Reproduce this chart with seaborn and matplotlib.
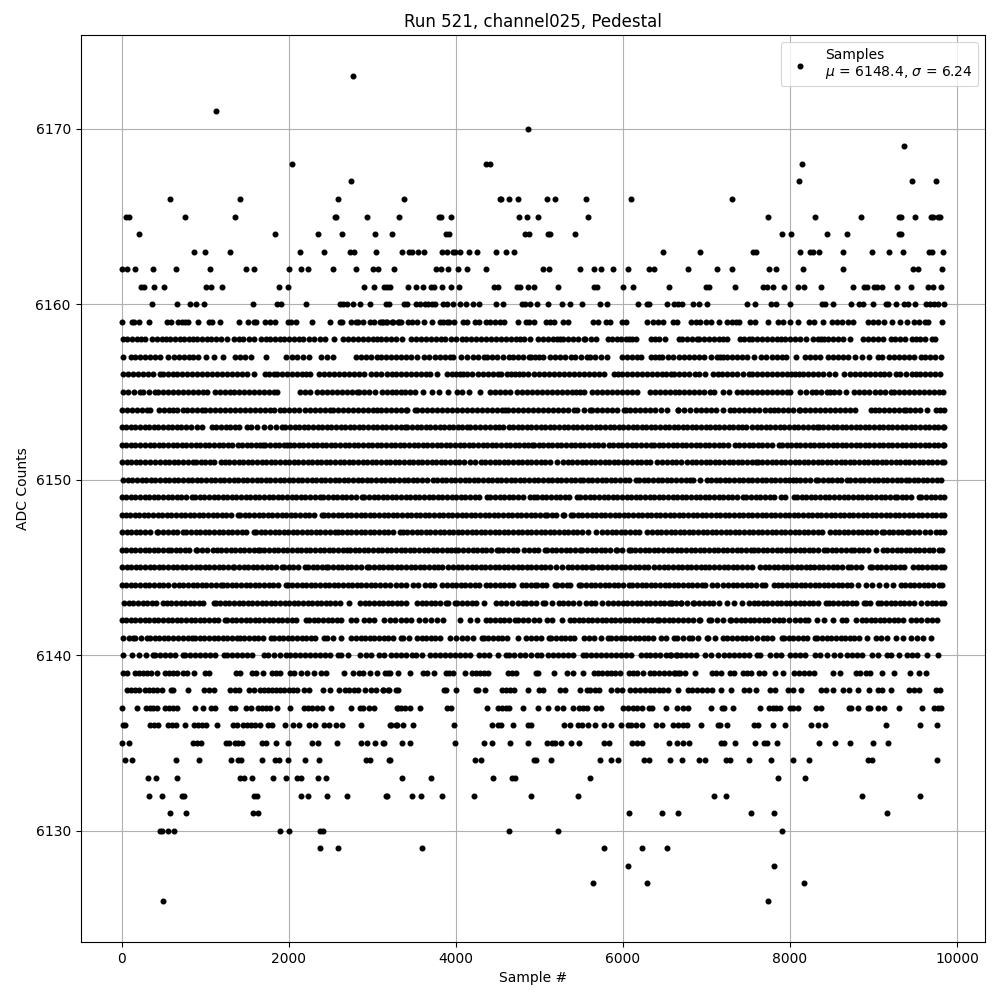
import matplotlib
matplotlib.use("Agg")
import matplotlib.pyplot as plt
import pandas as pd
import seaborn as sns

# Sample numbers read per ADC level. Sparse levels are read dot by dot;
# in the dense levels dots merge, so the listed samples are estimates that follow the visible runs and gaps.
s6171 = [1124]
s6170 = [4860]
s6169 = [9364]
s6168 = [2036, 4356, 4404, 8140]
s6167 = [2744, 8104, 9460, 9748]
s6166 = [584, 1412, 2588, 3384, 4524, 4544, 4632, 4740, 5088, 5184, 5556, 6096, 7300]
s6165 = [52, 84, 764, 1352, 2552, 2568, 2936, 3324, 3804, 3828, 3948, 4752, 4848, 4980, 5580, 7732, 8296, 8848, 9304, 9332, 9496, 9688, 9712, 9772, 9796]
s6164 = [212, 1832, 2348, 2636, 3032, 3240, 3888, 3924, 4824, 4872, 5100, 5124, 5424, 7900, 8008, 8440, 8680, 9304, 9332]
s6163 = [872, 1004, 1292, 2132, 2420, 2732, 2780, 3044, 3360, 3444, 3480, 3552, 3624, 3840, 3900, 3972, 3996, 4056, 4152, 4248, 4476, 4596, 4692, 6480, 6928, 7552, 7588, 8116, 8236, 8272, 8344, 8632, 8980, 9184, 9352, 9664, 9700, 9832]
s6162 = [0, 68, 164, 380, 656, 1052, 1484, 1580, 2000, 2144, 2228, 2528, 2804, 3004, 3068, 3264, 3768, 3828, 3912, 4032, 4140, 4356, 5040, 5112, 5484, 5652, 5736, 5880, 6060, 6312, 6372, 6784, 7132, 7300, 7744, 7828, 8152, 8632, 9472, 9532, 9820]
s6161 = [228, 272, 392, 512, 1016, 1064, 1196, 1880, 1988, 2900, 3020, 3144, 3180, 3216, 3432, 3528, 3612, 3708, 3744, 3840, 3948, 4044, 4452, 4500, 4728, 4764, 4860, 4932, 5224, 5652, 5692, 6000, 6120, 6552, 7000, 7036, 7336, 7672, 7720, 7792, 7924, 8092, 8164, 8368, 8752, 8884, 8920, 9004, 9040, 9100, 9280, 9448, 9652, 9712, 9808]
s6160 = [368, 668, 824, 888, 992, 1568, 1856, 1904, 2204, 2612, 2652, 2696, 2768, 2852, 2972, 3164, 3200, 3384, 3420, 3528, 3576, 3636, 3672, 3720, 3756, 3852, 3892, 3972, 4056, 4128, 4200, 4272, 4484, 4560, 4788, 4824, 4892, 4968, 5100, 5268, 5364, 5508, 5724, 5804, 6180, 6284, 6312, 6532, 6616, 6660, 6712, 6844, 6916, 7012, 7480, 7576, 7768, 7828, 7996, 8380, 8416, 8512, 8728, 8824, 8872, 8992, 9148, 9172, 9268, 9364, 9412, 9496, 9628, 9676, 9724, 9772, 9842]
s6159 = [0, 128, 152, 212, 332, 548, 596, 680, 720, 760, 800, 920, 1040, 1080, 1172, 1400, 1508, 1580, 1612, 1712, 1780, 1840, 1988, 2028, 2084, 2276, 2492, 2612, 2640, 2740, 2804, 2828, 2884, 2972, 3020, 3092, 3128, 3172, 3244, 3320, 3112, 3160, 3240, 3312, 3340, 3432, 3480, 3532, 3624, 3720, 3816, 3852, 3892, 3924, 3984, 4092, 4140, 4224, 4272, 4356, 4412, 4472, 4524, 4580, 4740, 4836, 4872, 4932, 5076, 5132, 5180, 5280, 5340, 5640, 5700, 5796, 5844, 5988, 6036, 6288, 6360, 6420, 6480, 6604, 6652, 6820, 6880, 6928, 7000, 7060, 7156, 7252, 7300, 7348, 7384, 7516, 7576, 7732, 7852, 7912, 7996, 8092, 8224, 8284, 8392, 8500, 8564, 8624, 8692, 8752, 8932, 8992, 9052, 9124, 9220, 9316, 9400, 9484, 9544, 9616, 9652, 9820]
s6158 = [20, 70, 125, 180, 235, 280, 360, 420, 480, 528, 575, 640, 700, 745, 810, 860, 905, 960, 1020, 1075, 1130, 1190, 1260, 1340, 1400, 1455, 1520, 1580, 1668, 1725, 1780, 1840, 1890, 1940, 2000, 2060, 2120, 2175, 2240, 2300, 2370, 2440, 2540, 2652, 2710, 2770, 2830, 2890, 2950, 3010, 3060, 3100, 3160, 3220, 3280, 3360, 3460, 3520, 3580, 3640, 3700, 3760, 3820, 3875, 3940, 4000, 4072, 4120, 4180, 4240, 4300, 4360, 4420, 4480, 4540, 4600, 4660, 4720, 4770, 4812, 4884, 4980, 5040, 5100, 5160, 5210, 5252, 5284, 5340, 5400, 5460, 5532, 5552, 5620, 5684, 5820, 5870, 5924, 5972, 6032, 6072, 6110, 6152, 6332, 6380, 6432, 6504, 6672, 6710, 6770, 6830, 6884, 6916, 6970, 7030, 7090, 7150, 7200, 7244, 7396, 7450, 7512, 7544, 7600, 7660, 7720, 7780, 7844, 7892, 7944, 8000, 8060, 8120, 8196, 8276, 8330, 8372, 8404, 8460, 8520, 8580, 8640, 8724, 8872, 8930, 8990, 9050, 9116, 9204, 9260, 9320, 9380, 9464, 9504, 9560, 9620, 9696, 9736]
s6157 = [20, 108, 165, 220, 280, 340, 400, 460, 552, 628, 690, 750, 810, 860, 920, 1012, 1108, 1208, 1360, 1420, 1472, 1544, 1728, 1972, 2040, 2105, 2172, 2240, 2388, 2460, 2532, 2800, 2860, 2930, 2988, 3052, 3110, 3170, 3230, 3290, 3350, 3400, 3460, 3540, 3620, 3684, 3752, 3810, 3870, 3930, 3972, 4068, 4140, 4200, 4270, 4332, 4372, 4430, 4492, 4564, 4632, 4684, 4740, 4800, 4872, 4900, 4950, 4992, 5040, 5132, 5190, 5250, 5310, 5380, 5432, 5500, 5572, 5604, 5670, 5740, 5812, 5992, 6050, 6110, 6170, 6212, 6340, 6390, 6432, 6472, 6540, 6604, 6672, 6730, 6790, 6850, 6910, 6970, 7052, 7124, 7165, 7204, 7244, 7300, 7360, 7420, 7480, 7572, 7652, 7710, 7780, 7840, 7904, 7952, 8068, 8184, 8240, 8300, 8364, 8452, 8510, 8570, 8630, 8700, 8784, 8864, 8948, 9052, 9104, 9184, 9244, 9304, 9360, 9420, 9480, 9564, 9620, 9680, 9740, 9804]
s6156 = [20, 80, 140, 200, 260, 320, 380, 460, 500, 560, 620, 660, 720, 780, 840, 900, 960, 1020, 1080, 1140, 1200, 1260, 1320, 1380, 1440, 1500, 1580, 1720, 1770, 1820, 1860, 1920, 1980, 2040, 2100, 2160, 2210, 2260, 2360, 2420, 2480, 2540, 2600, 2660, 2720, 2780, 2840, 2900, 2988, 3050, 3108, 3172, 3240, 3290, 3340, 3400, 3460, 3520, 3580, 3640, 3692, 3772, 3892, 3950, 4000, 4052, 4092, 4140, 4192, 4260, 4320, 4380, 4440, 4500, 4540, 4612, 4660, 4712, 4752, 4810, 4870, 4930, 4990, 5050, 5110, 5170, 5230, 5290, 5350, 5410, 5470, 5530, 5590, 5650, 5710, 5772, 5892, 5940, 5992, 6052, 6110, 6172, 6232, 6290, 6350, 6410, 6470, 6520, 6572, 6612, 6672, 6730, 6790, 6864, 6916, 6980, 7084, 7136, 7190, 7250, 7310, 7370, 7440, 7504, 7544, 7600, 7660, 7720, 7780, 7840, 7900, 7960, 8010, 8064, 8104, 8160, 8220, 8280, 8340, 8400, 8470, 8544, 8644, 8724, 8780, 8840, 8900, 8960, 9020, 9080, 9130, 9184, 9264, 9320, 9390, 9464, 9504, 9560, 9620, 9680, 9740, 9800]
s6155 = [20, 80, 150, 220, 260, 330, 400, 440, 500, 560, 620, 680, 740, 800, 860, 920, 970, 1020, 1120, 1180, 1240, 1300, 1348, 1410, 1470, 1530, 1590, 1650, 1710, 1770, 1820, 1860, 2140, 2200, 2252, 2340, 2400, 2460, 2520, 2580, 2640, 2700, 2760, 2820, 2840, 2900, 2960, 3028, 3120, 3180, 3240, 3290, 3340, 3390, 3452, 3512, 3612, 3720, 3804, 3912, 4012, 4080, 4152, 4292, 4412, 4470, 4530, 4590, 4652, 4732, 4792, 4850, 4910, 4970, 5030, 5092, 5152, 5212, 5270, 5330, 5390, 5440, 5492, 5532, 5632, 5692, 5752, 5810, 5870, 5930, 5990, 6050, 6110, 6164, 6324, 6380, 6440, 6500, 6560, 6620, 6672, 6730, 6792, 6850, 6910, 6970, 7044, 7096, 7204, 7270, 7364, 7424, 7480, 7540, 7600, 7660, 7720, 7780, 7840, 7900, 7960, 8004, 8124, 8190, 8264, 8312, 8370, 8440, 8476, 8524, 8584, 8672, 8764, 8824, 8880, 8944, 9016, 9080, 9140, 9204, 9244, 9300, 9360, 9420, 9480, 9540, 9600, 9660, 9720, 9780, 9830]
s6154 = [0, 60, 120, 180, 240, 300, 340, 452, 510, 570, 620, 668, 730, 788, 840, 900, 960, 1000, 1060, 1120, 1180, 1240, 1300, 1360, 1420, 1480, 1540, 1600, 1660, 1720, 1780, 1820, 1900, 1940, 2000, 2060, 2120, 2200, 2252, 2310, 2370, 2430, 2500, 2528, 2590, 2650, 2710, 2770, 2830, 2890, 2950, 3010, 3060, 3100, 3160, 3220, 3280, 3340, 3400, 3412, 3512, 3532, 3590, 3650, 3710, 3770, 3830, 3890, 3950, 4010, 4070, 4130, 4190, 4250, 4310, 4370, 4430, 4490, 4550, 4592, 4620, 4680, 4740, 4800, 4860, 4920, 4980, 5040, 5100, 5160, 5220, 5280, 5340, 5412, 5452, 5530, 5612, 5632, 5690, 5750, 5810, 5870, 5930, 6012, 6032, 6090, 6150, 6210, 6270, 6330, 6390, 6452, 6532, 6660, 6664, 6730, 6804, 6880, 6940, 7000, 7060, 7120, 7196, 7276, 7330, 7390, 7450, 7510, 7570, 7630, 7700, 7764, 7808, 7860, 7920, 7980, 8040, 8104, 8124, 8180, 8240, 8300, 8360, 8420, 8480, 8540, 8600, 8660, 8720, 8784, 8972, 9012, 9070, 9130, 9190, 9250, 9310, 9364, 9384, 9440, 9500, 9560, 9644, 9744, 9800, 9838]
s6153 = [0, 55, 110, 165, 220, 275, 330, 385, 440, 495, 550, 605, 660, 715, 770, 825, 900, 960, 1080, 1135, 1190, 1245, 1300, 1355, 1410, 1500, 1548, 1620, 1700, 1780, 1850, 1920, 1960, 2015, 2070, 2125, 2180, 2235, 2290, 2345, 2400, 2455, 2510, 2565, 2620, 2675, 2730, 2785, 2840, 2895, 2950, 3005, 3060, 3115, 3170, 3225, 3280, 3340, 3392, 3420, 3475, 3530, 3585, 3640, 3695, 3750, 3805, 3860, 3915, 3970, 4025, 4080, 4140, 4172, 4230, 4290, 4350, 4412, 4464, 4512, 4570, 4632, 4684, 4740, 4795, 4850, 4905, 4960, 5015, 5070, 5125, 5180, 5235, 5290, 5345, 5400, 5455, 5510, 5565, 5620, 5675, 5730, 5785, 5840, 5895, 5950, 6005, 6060, 6115, 6170, 6225, 6280, 6335, 6390, 6445, 6500, 6555, 6610, 6665, 6720, 6770, 6824, 6872, 6932, 6990, 7045, 7100, 7155, 7210, 7265, 7320, 7375, 7430, 7476, 7544, 7600, 7655, 7710, 7765, 7820, 7875, 7930, 7985, 8052, 8096, 8150, 8210, 8270, 8324, 8344, 8400, 8455, 8510, 8565, 8620, 8675, 8730, 8785, 8840, 8895, 8950, 9005, 9060, 9115, 9170, 9225, 9280, 9335, 9390, 9445, 9500, 9555, 9610, 9665, 9720, 9775, 9830, 9840]
s6152 = [0, 55, 110, 165, 220, 280, 340, 388, 445, 500, 555, 610, 665, 720, 775, 830, 885, 940, 995, 1050, 1105, 1160, 1215, 1270, 1325, 1388, 1440, 1495, 1550, 1605, 1660, 1692, 1720, 1775, 1830, 1885, 1940, 1980, 2012, 2065, 2120, 2175, 2230, 2285, 2340, 2395, 2450, 2505, 2560, 2615, 2670, 2725, 2780, 2835, 2890, 2945, 3000, 3055, 3110, 3165, 3220, 3275, 3330, 3385, 3440, 3495, 3550, 3605, 3660, 3715, 3770, 3825, 3880, 3935, 3990, 4045, 4100, 4155, 4210, 4265, 4320, 4375, 4430, 4485, 4540, 4595, 4650, 4705, 4760, 4815, 4870, 4912, 4932, 4990, 5045, 5100, 5155, 5210, 5265, 5320, 5375, 5430, 5485, 5540, 5595, 5650, 5705, 5760, 5832, 5884, 5940, 5995, 6050, 6105, 6160, 6215, 6272, 6332, 6372, 6430, 6485, 6540, 6595, 6650, 6705, 6760, 6815, 6870, 6925, 6980, 7035, 7090, 7145, 7200, 7255, 7344, 7392, 7450, 7505, 7560, 7615, 7670, 7725, 7780, 7864, 7904, 7960, 8015, 8070, 8125, 8180, 8235, 8290, 8345, 8400, 8455, 8510, 8565, 8620, 8675, 8730, 8785, 8840, 8895, 8950, 9005, 9060, 9115, 9170, 9225, 9280, 9335, 9390, 9445, 9500, 9555, 9610, 9665, 9720, 9775, 9830, 9842]
s6151 = [0, 60, 115, 170, 225, 280, 340, 400, 460, 515, 570, 625, 680, 735, 790, 860, 888, 945, 1000, 1055, 1110, 1192, 1232, 1290, 1345, 1400, 1455, 1510, 1565, 1620, 1675, 1730, 1785, 1840, 1895, 1950, 2005, 2060, 2115, 2170, 2225, 2280, 2335, 2390, 2445, 2500, 2555, 2610, 2665, 2720, 2775, 2830, 2885, 2940, 2995, 3050, 3105, 3160, 3215, 3270, 3325, 3380, 3435, 3490, 3545, 3600, 3655, 3710, 3765, 3820, 3875, 3930, 3985, 4040, 4095, 4164, 4224, 4300, 4355, 4410, 4465, 4520, 4575, 4630, 4685, 4740, 4795, 4850, 4905, 4960, 5015, 5070, 5125, 5212, 5284, 5340, 5395, 5450, 5505, 5560, 5615, 5670, 5725, 5780, 5835, 5890, 5945, 6000, 6055, 6110, 6165, 6220, 6275, 6330, 6404, 6472, 6530, 6585, 6640, 6692, 6772, 6824, 6880, 6935, 6990, 7045, 7100, 7155, 7210, 7265, 7320, 7375, 7430, 7485, 7540, 7596, 7612, 7670, 7725, 7780, 7835, 7890, 7945, 8000, 8055, 8110, 8165, 8220, 8275, 8330, 8385, 8440, 8495, 8550, 8605, 8660, 8715, 8770, 8825, 8880, 8935, 8990, 9045, 9100, 9155, 9210, 9265, 9320, 9375, 9430, 9485, 9540, 9595, 9650, 9705, 9760, 9815, 9838]
s6150 = [20, 75, 130, 185, 240, 295, 350, 405, 460, 515, 570, 625, 680, 735, 790, 845, 900, 955, 1010, 1065, 1120, 1175, 1230, 1285, 1340, 1395, 1450, 1500, 1560, 1615, 1670, 1725, 1780, 1835, 1890, 1945, 2000, 2055, 2110, 2165, 2220, 2275, 2330, 2385, 2440, 2495, 2550, 2605, 2660, 2715, 2770, 2825, 2880, 2935, 2990, 3045, 3100, 3155, 3210, 3265, 3320, 3375, 3430, 3485, 3540, 3595, 3650, 3724, 3772, 3830, 3885, 3940, 3995, 4050, 4105, 4160, 4215, 4270, 4325, 4380, 4435, 4490, 4545, 4600, 4655, 4710, 4765, 4820, 4875, 4930, 4985, 5040, 5104, 5152, 5210, 5265, 5320, 5375, 5430, 5492, 5524, 5580, 5635, 5690, 5745, 5800, 5855, 5910, 5965, 6020, 6075, 6152, 6192, 6250, 6305, 6360, 6415, 6470, 6525, 6580, 6635, 6692, 6750, 6804, 6836, 6920, 7012, 7052, 7110, 7165, 7220, 7275, 7330, 7385, 7440, 7495, 7550, 7605, 7660, 7715, 7770, 7825, 7880, 7935, 7990, 8036, 8068, 8125, 8180, 8235, 8312, 8336, 8395, 8450, 8505, 8560, 8615, 8684, 8724, 8780, 8835, 8890, 8945, 9000, 9055, 9110, 9165, 9220, 9275, 9330, 9384, 9424, 9480, 9535, 9590, 9645, 9700, 9755, 9804]
s6149 = [0, 55, 110, 165, 220, 275, 330, 385, 440, 495, 550, 605, 660, 715, 770, 840, 880, 935, 990, 1045, 1100, 1155, 1210, 1265, 1320, 1375, 1430, 1485, 1540, 1595, 1650, 1705, 1760, 1815, 1870, 1925, 1980, 2035, 2090, 2145, 2200, 2255, 2310, 2380, 2412, 2470, 2525, 2580, 2635, 2690, 2745, 2800, 2880, 2900, 2960, 3015, 3070, 3125, 3180, 3235, 3290, 3345, 3400, 3455, 3510, 3565, 3620, 3675, 3730, 3785, 3840, 3895, 3950, 4005, 4060, 4115, 4170, 4225, 4280, 4372, 4412, 4470, 4525, 4580, 4635, 4690, 4745, 4800, 4892, 4932, 4972, 5030, 5085, 5140, 5195, 5250, 5305, 5360, 5452, 5492, 5550, 5605, 5660, 5715, 5770, 5825, 5880, 5935, 5990, 6045, 6100, 6155, 6210, 6265, 6320, 6375, 6430, 6485, 6540, 6595, 6650, 6705, 6760, 6815, 6870, 6925, 6980, 7035, 7090, 7145, 7200, 7255, 7310, 7365, 7436, 7476, 7535, 7590, 7645, 7700, 7755, 7810, 7892, 7944, 8044, 8084, 8140, 8195, 8250, 8305, 8360, 8415, 8470, 8532, 8588, 8645, 8700, 8755, 8810, 8865, 8920, 8975, 9030, 9085, 9140, 9195, 9252, 9276, 9335, 9390, 9445, 9544, 9572, 9630, 9685, 9740, 9795, 9840]
s6148 = [0, 50, 100, 155, 210, 265, 320, 375, 430, 485, 540, 595, 650, 705, 760, 815, 870, 925, 980, 1035, 1090, 1145, 1200, 1255, 1310, 1388, 1420, 1475, 1530, 1585, 1640, 1695, 1750, 1805, 1860, 1915, 1970, 2025, 2080, 2135, 2190, 2245, 2300, 2400, 2420, 2475, 2530, 2585, 2640, 2695, 2750, 2805, 2860, 2915, 2970, 3025, 3080, 3135, 3190, 3245, 3300, 3355, 3410, 3465, 3520, 3575, 3630, 3685, 3740, 3795, 3850, 3905, 3960, 4015, 4070, 4125, 4180, 4235, 4290, 4345, 4400, 4455, 4510, 4565, 4620, 4675, 4730, 4785, 4840, 4895, 4950, 5005, 5072, 5092, 5150, 5205, 5284, 5300, 5380, 5404, 5460, 5515, 5570, 5625, 5680, 5735, 5790, 5845, 5900, 5955, 6010, 6065, 6120, 6175, 6230, 6285, 6340, 6395, 6450, 6505, 6560, 6615, 6670, 6725, 6780, 6835, 6890, 6945, 7000, 7055, 7110, 7165, 7220, 7275, 7330, 7385, 7440, 7495, 7550, 7605, 7660, 7715, 7770, 7825, 7880, 7935, 7990, 8045, 8100, 8155, 8210, 8265, 8320, 8375, 8430, 8485, 8540, 8595, 8650, 8705, 8760, 8815, 8870, 8925, 8980, 9035, 9090, 9145, 9200, 9255, 9310, 9365, 9420, 9475, 9530, 9585, 9640, 9695, 9750, 9805, 9842]
s6147 = [0, 60, 115, 170, 225, 280, 335, 420, 440, 500, 555, 610, 665, 732, 772, 830, 885, 940, 995, 1050, 1105, 1160, 1215, 1270, 1325, 1380, 1435, 1490, 1580, 1608, 1665, 1720, 1775, 1830, 1885, 1940, 1995, 2050, 2105, 2160, 2215, 2270, 2325, 2380, 2435, 2490, 2560, 2588, 2640, 2695, 2750, 2805, 2860, 2915, 2970, 3025, 3080, 3135, 3190, 3245, 3332, 3364, 3420, 3475, 3530, 3585, 3640, 3695, 3750, 3805, 3860, 3915, 3970, 4025, 4080, 4135, 4190, 4245, 4300, 4355, 4410, 4465, 4520, 4575, 4630, 4685, 4740, 4795, 4850, 4905, 4960, 5015, 5070, 5125, 5180, 5235, 5290, 5345, 5400, 5455, 5510, 5580, 5680, 5752, 5810, 5865, 5920, 5975, 6030, 6085, 6140, 6192, 6292, 6350, 6405, 6460, 6515, 6570, 6625, 6680, 6735, 6790, 6845, 6900, 6955, 7010, 7065, 7120, 7175, 7230, 7285, 7340, 7395, 7450, 7505, 7560, 7615, 7670, 7725, 7780, 7835, 7890, 7945, 8000, 8055, 8110, 8165, 8220, 8275, 8330, 8384, 8476, 8535, 8590, 8645, 8700, 8755, 8810, 8865, 8920, 8975, 9030, 9104, 9124, 9180, 9235, 9290, 9345, 9396, 9428, 9485, 9540, 9612, 9676, 9744, 9800, 9838]
s6146 = [0, 55, 110, 165, 220, 275, 330, 385, 440, 495, 560, 588, 645, 700, 755, 810, 888, 908, 965, 1020, 1092, 1140, 1195, 1250, 1305, 1360, 1415, 1470, 1525, 1580, 1632, 1652, 1710, 1765, 1820, 1875, 1930, 1985, 2040, 2095, 2150, 2205, 2260, 2315, 2370, 2425, 2480, 2535, 2590, 2645, 2700, 2732, 2790, 2845, 2900, 2955, 3010, 3065, 3120, 3175, 3230, 3285, 3340, 3395, 3450, 3505, 3560, 3615, 3670, 3725, 3780, 3835, 3890, 3945, 3992, 4032, 4090, 4145, 4200, 4255, 4310, 4365, 4420, 4492, 4512, 4570, 4625, 4680, 4735, 4812, 4872, 4930, 4985, 5072, 5092, 5150, 5205, 5260, 5315, 5370, 5425, 5492, 5512, 5570, 5625, 5680, 5735, 5790, 5845, 5912, 5932, 5990, 6072, 6092, 6150, 6205, 6260, 6315, 6370, 6425, 6480, 6535, 6590, 6645, 6700, 6755, 6810, 6865, 6920, 6975, 7030, 7085, 7140, 7195, 7250, 7305, 7360, 7415, 7470, 7528, 7564, 7620, 7675, 7730, 7785, 7840, 7895, 7950, 8005, 8060, 8115, 8170, 8225, 8280, 8335, 8404, 8444, 8500, 8555, 8610, 8665, 8732, 8764, 8820, 8875, 8930, 9032, 9112, 9164, 9220, 9275, 9330, 9385, 9440, 9495, 9550, 9605, 9660, 9715, 9784, 9824]
s6145 = [0, 60, 115, 170, 225, 280, 335, 390, 445, 500, 555, 610, 665, 720, 775, 830, 885, 940, 995, 1050, 1105, 1160, 1215, 1270, 1332, 1348, 1405, 1460, 1515, 1570, 1625, 1680, 1735, 1790, 1845, 1920, 1940, 2000, 2055, 2110, 2200, 2228, 2285, 2340, 2395, 2452, 2472, 2530, 2585, 2640, 2695, 2750, 2805, 2860, 2932, 2960, 3020, 3075, 3130, 3185, 3240, 3295, 3350, 3405, 3460, 3515, 3570, 3625, 3680, 3735, 3790, 3832, 3912, 3970, 4025, 4080, 4135, 4190, 4245, 4300, 4355, 4410, 4465, 4520, 4575, 4630, 4685, 4740, 4795, 4850, 4905, 4960, 5015, 5070, 5125, 5200, 5268, 5340, 5395, 5450, 5505, 5560, 5620, 5644, 5700, 5755, 5810, 5865, 5920, 5975, 6030, 6085, 6140, 6195, 6250, 6305, 6372, 6432, 6490, 6545, 6600, 6655, 6710, 6765, 6820, 6875, 6930, 6984, 7036, 7095, 7150, 7205, 7260, 7315, 7370, 7425, 7480, 7548, 7636, 7695, 7750, 7805, 7860, 7915, 7970, 8025, 8080, 8135, 8190, 8244, 8284, 8344, 8400, 8455, 8510, 8565, 8620, 8692, 8732, 8790, 8845, 8952, 8984, 9040, 9095, 9150, 9205, 9260, 9312, 9364, 9472, 9530, 9585, 9640, 9695, 9750, 9805, 9838]
s6144 = [0, 55, 110, 165, 220, 275, 330, 385, 448, 500, 560, 628, 685, 740, 795, 850, 905, 960, 1015, 1070, 1125, 1188, 1208, 1265, 1320, 1375, 1430, 1485, 1540, 1595, 1650, 1705, 1760, 1815, 1870, 1964, 1988, 2045, 2100, 2155, 2210, 2265, 2320, 2375, 2430, 2485, 2540, 2595, 2650, 2705, 2760, 2815, 2870, 2925, 2980, 3035, 3090, 3148, 3212, 3280, 3340, 3400, 3484, 3552, 3632, 3690, 3745, 3832, 3892, 3950, 4005, 4060, 4115, 4170, 4225, 4280, 4364, 4412, 4470, 4525, 4580, 4635, 4690, 4792, 4840, 4895, 4952, 4972, 5030, 5085, 5192, 5212, 5270, 5332, 5372, 5476, 5500, 5560, 5615, 5670, 5725, 5780, 5835, 5890, 5945, 6000, 6072, 6112, 6170, 6225, 6280, 6335, 6390, 6445, 6500, 6555, 6610, 6665, 6720, 6775, 6830, 6885, 6944, 6984, 7064, 7130, 7204, 7260, 7315, 7370, 7425, 7480, 7535, 7590, 7664, 7696, 7804, 7852, 7910, 7965, 8020, 8075, 8130, 8185, 8240, 8295, 8350, 8405, 8460, 8515, 8570, 8625, 8680, 8735, 8816, 8904, 8984, 9064, 9150, 9236, 9324, 9380, 9435, 9490, 9545, 9600, 9655, 9710, 9784, 9824]
s6143 = [28, 85, 140, 195, 250, 305, 360, 415, 500, 540, 595, 650, 705, 760, 815, 870, 925, 980, 1100, 1124, 1180, 1235, 1290, 1345, 1400, 1455, 1510, 1565, 1620, 1675, 1730, 1785, 1840, 1895, 1950, 2005, 2060, 2115, 2170, 2225, 2280, 2335, 2390, 2445, 2500, 2555, 2610, 2720, 2852, 2910, 2965, 3020, 3075, 3130, 3185, 3240, 3292, 3340, 3400, 3532, 3590, 3645, 3700, 3755, 3810, 3880, 3912, 3992, 4020, 4080, 4135, 4190, 4245, 4332, 4484, 4540, 4600, 4670, 4744, 4804, 4844, 4900, 4960, 5044, 5072, 5150, 5240, 5280, 5340, 5400, 5470, 5560, 5620, 5672, 5750, 5824, 5880, 5944, 6000, 6055, 6110, 6165, 6220, 6275, 6330, 6385, 6440, 6495, 6552, 6592, 6692, 6576, 6640, 6700, 6770, 6836, 6856, 6915, 6970, 7025, 7080, 7152, 7252, 7332, 7420, 7512, 7564, 7620, 7675, 7730, 7785, 7840, 7895, 7950, 8005, 8060, 8115, 8170, 8225, 8280, 8335, 8436, 8464, 8520, 8575, 8630, 8685, 8740, 8795, 8884, 8904, 8960, 9052, 9092, 9150, 9205, 9260, 9315, 9370, 9425, 9480, 9564, 9636, 9695, 9750, 9805, 9842]
s6142 = [0, 55, 110, 165, 220, 275, 330, 385, 440, 495, 550, 605, 660, 715, 770, 825, 880, 935, 990, 1045, 1100, 1155, 1240, 1260, 1320, 1375, 1430, 1485, 1540, 1595, 1650, 1705, 1760, 1815, 1870, 1925, 1980, 2035, 2090, 2212, 2240, 2300, 2355, 2410, 2465, 2520, 2575, 2630, 2740, 2800, 2900, 2960, 3020, 3140, 3212, 3270, 3340, 3400, 3460, 3564, 3632, 3700, 3770, 3844, 4052, 4164, 4252, 4364, 4412, 4470, 4525, 4580, 4635, 4712, 4740, 4800, 4860, 4932, 4992, 5092, 5152, 5272, 5372, 5412, 5470, 5525, 5580, 5635, 5690, 5745, 5800, 5855, 5910, 5965, 6020, 6075, 6130, 6185, 6240, 6295, 6350, 6412, 6436, 6495, 6550, 6605, 6660, 6720, 6780, 6840, 6916, 6924, 7036, 7052, 7130, 7200, 7276, 7296, 7355, 7410, 7465, 7520, 7575, 7630, 7685, 7740, 7812, 7864, 7920, 7990, 8060, 8120, 8184, 8212, 8324, 8412, 8512, 8624, 8672, 8792, 8860, 8904, 8965, 9020, 9075, 9130, 9185, 9240, 9295, 9350, 9444, 9504, 9570, 9640, 9700, 9764]
s6141 = [20, 85, 132, 160, 230, 308, 340, 395, 450, 505, 560, 615, 670, 740, 800, 840, 880, 935, 990, 1045, 1100, 1155, 1210, 1265, 1320, 1380, 1412, 1470, 1525, 1580, 1635, 1690, 1788, 1820, 1880, 1935, 1990, 2045, 2100, 2155, 2210, 2265, 2320, 2420, 2460, 2530, 2628, 2748, 2805, 2860, 2915, 2970, 3025, 3080, 3135, 3190, 3245, 3340, 3364, 3444, 3532, 3590, 3645, 3700, 3755, 3810, 3932, 4000, 4080, 4140, 4200, 4312, 4332, 4390, 4445, 4500, 4555, 4610, 4744, 4844, 4905, 4960, 5015, 5112, 5144, 5200, 5255, 5310, 5365, 5420, 5532, 5600, 5660, 5740, 5820, 5860, 5920, 5975, 6030, 6085, 6140, 6195, 6250, 6305, 6360, 6452, 6512, 6612, 6652, 6720, 6796, 6824, 6900, 7004, 7024, 7100, 7196, 7252, 7310, 7365, 7420, 7475, 7530, 7604, 7672, 7730, 7790, 7904, 7924, 7985, 8040, 8095, 8150, 8205, 8304, 8324, 8385, 8440, 8495, 8550, 8605, 8660, 8715, 8770, 8825, 8924, 9024, 9090, 9164, 9264, 9352, 9444, 9524, 9592, 9692]
s6140 = [12, 120, 212, 290, 380, 400, 460, 520, 580, 640, 740, 760, 820, 880, 940, 1000, 1060, 1120, 1220, 1260, 1320, 1380, 1440, 1500, 1560, 1700, 1752, 1820, 1900, 1972, 2012, 2070, 2130, 2190, 2250, 2310, 2370, 2430, 2490, 2588, 2620, 2708, 2852, 2920, 2980, 3084, 3140, 3220, 3280, 3340, 3400, 3472, 3520, 3600, 3692, 3752, 3810, 3870, 3930, 3990, 4050, 4110, 4170, 4272, 4332, 4392, 4500, 4604, 4632, 4700, 4772, 4824, 4900, 4972, 5024, 5104, 5165, 5225, 5285, 5345, 5405, 5524, 5560, 5620, 5680, 5740, 5800, 5860, 5920, 5980, 6040, 6100, 6212, 6272, 6330, 6390, 6450, 6510, 6570, 6652, 6564, 6630, 6690, 6750, 6810, 6870, 6988, 7060, 7144, 7205, 7265, 7325, 7385, 7445, 7505, 7604, 7644, 7756, 7832, 7892, 7996, 8064, 8125, 8185, 8304, 8364, 8440, 8524, 8604, 8684, 8744, 8805, 8865, 8984, 9052, 9164, 9212, 9304, 9396, 9455, 9515, 9636, 9772]
s6139 = [20, 60, 164, 212, 260, 308, 356, 428, 524, 572, 620, 668, 740, 788, 868, 1004, 1040, 1364, 1412, 1556, 1604, 1688, 1796, 1844, 1892, 2020, 2068, 2144, 2216, 2300, 2384, 2444, 2660, 2768, 2840, 2888, 2972, 3052, 3156, 3192, 3212, 3308, 3456, 3612, 3652, 3744, 3888, 3924, 3972, 4116, 4188, 4236, 4284, 4332, 4380, 4620, 4668, 4716, 4956, 4980, 5172, 5328, 5400, 5520, 5652, 5700, 5748, 5812, 5860, 5908, 5964, 6072, 6120, 6168, 6240, 6324, 6372, 6432, 6492, 6552, 6612, 6660, 6624, 6684, 6744, 6864, 7072, 7120, 7180, 7276, 7324, 7432, 7484, 7528, 7624, 7684, 7816, 7912, 8044, 8104, 8164, 8224, 8284, 8512, 8596, 8788, 8836, 8908, 8956, 9100, 9244, 9436, 9544, 9628]
s6138 = [68, 112, 160, 208, 284, 332, 380, 428, 480, 596, 620, 800, 992, 1040, 1100, 1292, 1352, 1400, 1520, 1580, 1652, 1700, 1748, 1796, 1844, 1892, 1940, 2000, 2048, 2100, 2180, 2240, 2408, 2492, 2600, 2672, 2720, 2780, 2828, 2912, 2980, 3044, 3128, 3200, 3124, 3192, 3288, 3312, 3864, 3888, 4008, 4236, 4260, 4352, 4548, 4596, 4644, 4692, 4860, 4992, 5040, 5244, 5304, 5484, 5568, 5604, 5664, 5712, 5856, 5928, 5988, 6084, 6144, 6204, 6264, 6324, 6372, 6432, 6480, 6540, 6664, 6784, 6832, 6892, 6952, 7012, 7072, 7180, 7288, 7444, 7504, 7588, 7756, 7816, 7972, 8032, 8128, 8368, 8428, 8512, 8632, 8704, 8812, 8944, 9052, 9104, 9208, 9424, 9484, 9544, 9748, 9796]
s6137 = [0, 188, 296, 340, 380, 428, 524, 572, 620, 668, 884, 980, 1064, 1112, 1304, 1352, 1484, 1544, 1628, 1676, 1724, 1772, 1856, 2012, 2180, 2228, 2276, 2336, 2396, 2504, 2744, 2852, 2888, 2960, 3020, 3308, 3300, 3348, 3396, 3452, 3576, 3900, 3948, 4372, 4500, 4548, 4596, 4632, 4800, 4980, 5100, 5212, 5280, 5400, 5472, 5520, 5572, 5676, 5736, 6000, 6060, 6120, 6172, 6228, 6312, 6348, 6516, 6652, 6724, 6784, 7060, 7188, 7216, 7312, 7636, 7744, 7792, 7828, 7876, 7996, 8032, 8092, 8308, 8368, 8704, 8728, 8812, 8932, 8956, 9052, 9124, 9304, 9580, 9724, 9772, 9808]
s6136 = [20, 44, 344, 392, 440, 560, 608, 656, 764, 872, 920, 968, 1016, 1136, 1328, 1376, 1448, 1496, 1544, 1592, 1652, 1748, 1796, 1952, 2048, 2120, 2240, 2312, 2420, 2480, 2564, 2636, 2864, 3224, 3296, 3216, 3288, 3372, 3492, 3984, 4428, 4500, 4536, 4680, 4860, 4896, 5292, 5364, 5460, 5508, 5580, 5664, 5772, 5856, 5976, 6060, 6096, 6156, 6228, 6396, 6468, 6604, 6664, 6724, 6764, 6940, 7144, 7168, 7244, 7564, 7612, 7792, 7936, 8248, 8332, 8416, 9148, 9556, 9760]
s6135 = [0, 92, 860, 908, 956, 1244, 1280, 1352, 1388, 1440, 1676, 1724, 1844, 1988, 2276, 2348, 2576, 2864, 2936, 3032, 3140, 3132, 3360, 3456, 3996, 4332, 4428, 4644, 4860, 5088, 5148, 5184, 5256, 5376, 5472, 5772, 5832, 6108, 6168, 6228, 6552, 6652, 6724, 6796, 7180, 7216, 7336, 7576, 7684, 7720, 7840, 8344, 8536, 8716, 8992, 9172]
s6134 = [44, 128, 656, 932, 1304, 1388, 1424, 1676, 1832, 1880, 1988, 2192, 2360, 2924, 2972, 3212, 3204, 4224, 4296, 4932, 4956, 5136, 5724, 5856, 5940, 6252, 6312, 6564, 6712, 6916, 6988, 7240, 7276, 7504, 7768, 8032, 8224, 8932, 8980, 9760]
s6133 = [320, 416, 668, 1412, 1460, 1556, 1808, 1964, 2096, 2144, 2348, 2444, 3360, 3708, 4440, 4668, 4704, 5604, 7852, 8176]
s6132 = [332, 488, 728, 752, 1580, 1616, 2144, 2228, 2456, 2696, 3176, 3168, 3480, 3588, 3840, 4212, 4896, 5460, 7096, 7240, 8860, 9556]
s6131 = [584, 776, 1568, 1628, 6072, 6468, 6664, 7528, 7804, 9160]
s6130 = [460, 488, 552, 632, 1892, 2000, 2372, 2408, 4632, 5220, 7900]
s6129 = [2372, 2588, 3600, 5772, 6228, 6528]
s6128 = [6060, 7804]
s6127 = [5640, 6288, 8164]
s6126 = [500, 7732]
s6173 = [2772]

levels = [6173, 6171, 6170, 6169, 6168, 6167, 6166, 6165, 6164, 6163, 6162, 6161, 6160, 6159, 6158, 6157, 6156, 6155, 6154, 6153, 6152, 6151, 6150, 6149, 6148, 6147, 6146, 6145, 6144, 6143, 6142, 6141, 6140, 6139, 6138, 6137, 6136, 6135, 6134, 6133, 6132, 6131, 6130, 6129, 6128, 6127, 6126]
samples = [s6173, s6171, s6170, s6169, s6168, s6167, s6166, s6165, s6164, s6163, s6162, s6161, s6160, s6159, s6158, s6157, s6156, s6155, s6154, s6153, s6152, s6151, s6150, s6149, s6148, s6147, s6146, s6145, s6144, s6143, s6142, s6141, s6140, s6139, s6138, s6137, s6136, s6135, s6134, s6133, s6132, s6131, s6130, s6129, s6128, s6127, s6126]

title = "Run 521, channel025, Pedestal"
legend_label = "Samples\n$\\mu$ = 6148.4, $\\sigma$ = 6.24"
x_label = "Sample #"
y_label = "ADC Counts"

df = pd.DataFrame(
    [(x, lvl) for lvl, xs in zip(levels, samples) for x in xs],
    columns=["sample", "adc"],
)

sns.set_theme(style="ticks", context="paper", rc={
    "axes.grid": True, "grid.color": "#b0b0b0", "grid.linewidth": 0.8,
    "text.color": "black", "axes.labelcolor": "black", "axes.edgecolor": "black",
    "xtick.color": "black", "ytick.color": "black",
    "xtick.major.size": 3.5, "ytick.major.size": 3.5,
    "xtick.major.width": 0.8, "ytick.major.width": 0.8,
    "axes.linewidth": 0.8, "font.size": 10,
    "xtick.direction": "out", "ytick.direction": "out",
})
fig, ax = plt.subplots(figsize=(10, 10), dpi=100)
sns.scatterplot(
    data=df, x="sample", y="adc", ax=ax, marker=".", s=44, color="black",
    edgecolor="black", linewidth=1.0, zorder=2.5, label=legend_label,
)
ax.set_title(title, fontsize=12, color="black")
ax.set_xlabel(x_label, fontsize=10)
ax.set_ylabel(y_label, fontsize=10)
ax.tick_params(labelsize=10)
ax.margins(0.05)
ax.legend(loc="upper right", fontsize=10, frameon=True, framealpha=0.8, edgecolor="0.8", fancybox=True)
fig.subplots_adjust(left=0.0805, right=0.985, top=0.965, bottom=0.058)
fig.savefig("out.png", dpi=100)
